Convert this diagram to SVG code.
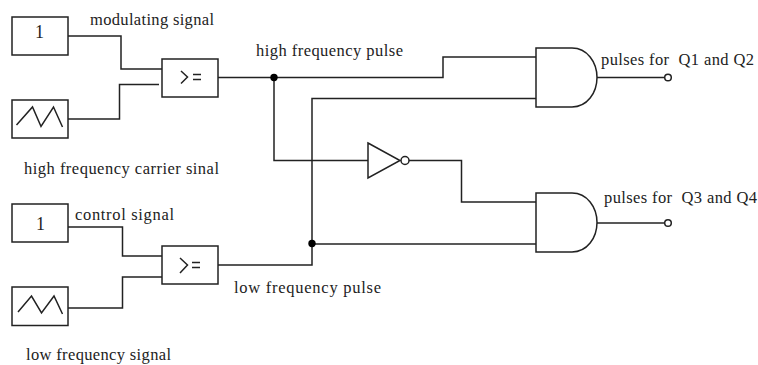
<svg xmlns="http://www.w3.org/2000/svg" width="758" height="365" viewBox="0 0 758 365">
<style>
.s{fill:none;stroke:#222;stroke-width:1.500}
.g{fill:#fff;stroke:#222;stroke-width:1.500}
.d{fill:#000;stroke:none}
text{font-family:"Liberation Serif","Times New Roman",serif;font-size:16.500px;fill:#222}
.c{text-anchor:middle;font-size:18px}
</style>
<rect width="758" height="365" fill="#fff"/>
<g id="connectors">
<path class="s" d="M68 36H121V69H162"/>
<path class="s" d="M67 119H119.500V84.500H159"/>
<path class="s" d="M218 77.500H274V160.500H368"/>
<path class="s" d="M274 77.500H443V57H536"/>
<path class="s" d="M409 160.500H461.500V202H536"/>
<path class="s" d="M68 227H122.500V256H162"/>
<path class="s" d="M68 308H122.500V277H162"/>
<path class="s" d="M218 265H312V98.500H536"/>
<path class="s" d="M312 244H536"/>
<path class="s" d="M597 77.500H664.500"/>
<path class="s" d="M597 223H664.500"/>
<circle class="d" cx="274" cy="77.500" r="3.700"/>
<circle class="d" cx="312" cy="243.500" r="3.700"/>
</g>
<g id="source1"><rect class="g" x="12" y="17" width="56" height="38"/><text class="c" x="39.500" y="38">1</text></g>
<g id="carrier1"><rect class="g" x="12" y="100" width="56" height="38"/><path class="s" d="M16.500 125L32.500 107L41 126.500L53.500 107L62.500 127"/></g>
<g id="source2"><rect class="g" x="12" y="204" width="56" height="38"/><text class="c" x="40.500" y="230">1</text></g>
<g id="carrier2"><rect class="g" x="12" y="287" width="56" height="38.500"/><path class="s" d="M18 312L31.500 296L41.500 313L54 296L62.500 314"/></g>
<g id="comparator1"><rect class="g" x="162" y="59" width="56" height="38"/><path class="s" d="M181 71L187.500 77L181 83.500"/><path class="s" d="M193 74.500H201M193 79.500H201"/></g>
<g id="comparator2"><rect class="g" x="162" y="246" width="56" height="38"/><path class="s" d="M180 258L187.500 265L180 273"/><path class="s" d="M192 262.500H200M192 267.500H200"/></g>
<g id="and1"><path class="g" d="M536 48H572C587 48 597 62 597 77.500C597 93 587 107 572 107H536Z"/></g>
<g id="and2"><path class="g" d="M536 193H572C587 193 597 207 597 222.500C597 238 587 252 572 252H536Z"/></g>
<g id="inverter"><path class="g" d="M368 143L400 160.500L368 178Z"/><circle class="g" cx="405" cy="160.500" r="4"/></g>
<g id="output1"><circle class="g" cx="668" cy="77.500" r="3.300"/></g>
<g id="output2"><circle class="g" cx="668" cy="223" r="3.300"/></g>
<g id="labels">
<text x="90" y="25" textLength="124">modulating signal</text>
<text x="256" y="56" textLength="147">high frequency pulse</text>
<text x="24" y="174" textLength="195">high frequency carrier sinal</text>
<text x="75" y="220" textLength="99">control signal</text>
<text x="234" y="293" textLength="147">low frequency pulse</text>
<text x="26" y="360" textLength="145">low frequency signal</text>
<text x="601" y="65" textLength="153" xml:space="preserve">pulses for  Q1 and Q2</text>
<text x="604" y="203" textLength="153" xml:space="preserve">pulses for  Q3 and Q4</text>
</g>
</svg>
